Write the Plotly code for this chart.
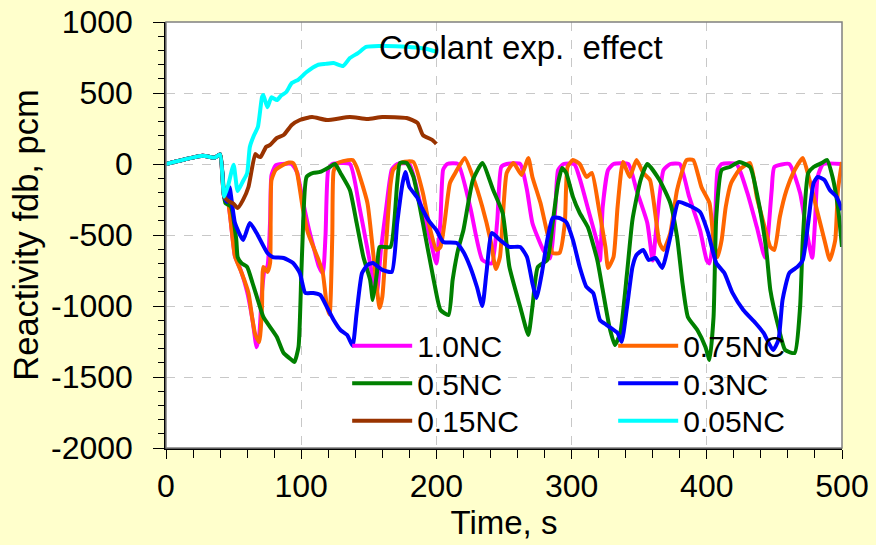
import plotly.graph_objects as go

# ---- data ----
start_t = [0, 27, 36, 40, 43]
start_y = [0, 58, 45, 68, -230]

nc100_t = start_t + [46, 51, 55, 60, 64, 67, 69, 71, 73, 75, 77, 78, 81, 86, 93, 97, 101, 105, 109, 113, 116, 118, 120, 123,
                     136, 143, 149, 153, 156, 159, 163, 167, 171, 180, 188, 195, 200, 203, 205, 208, 216, 225, 234, 241,
                     245, 248, 252, 262, 267, 271, 279, 284, 288, 290, 294, 302, 307, 313, 319, 321, 323, 327, 331, 342,
                     348, 356, 360, 363, 368, 373, 380, 387, 395, 400, 402, 406, 408, 411, 422, 430, 437, 443, 445, 448,
                     450, 461, 469, 474, 478, 480, 482, 486, 500]
nc100_y = start_y + [-275, -650, -740, -900, -1100, -1290, -1200, -900, -740, -720, -400, -80, -10, 0, 0, -60, -250, -430,
                     -580, -720, -770, -500, -40, 0, 0, -300, -600, -800, -900, -600, -300, -40, 0, 0, -275, -514, -700,
                     -400, -40, 0, 0, -303, -676, -700, -400, -20, 0, 0, -183, -415, -605, -665, -303, -42, 0, 0, -134,
                     -345, -556, -680, -303, -42, 0, 0, -183, -415, -680, -415, -42, 0, 0, -232, -465, -680, -700, -415,
                     -42, 0, 0, -204, -444, -660, -535, -183, -21, 0, -204, -486, -660, -415, -91, 0, 0]

nc075_t = start_t + [46, 51, 56, 61, 64, 66, 69, 71, 72, 75, 77, 78, 81, 84, 91, 94, 97, 101, 105, 109, 113, 116, 119, 121,
                     123, 124, 127, 131, 138, 141, 149, 153, 158, 160, 163, 166, 168, 175, 183, 190, 195, 200, 203, 206,
                     210, 214, 221, 227, 234, 240, 244, 247, 250, 252, 257, 263, 268, 271, 277, 282, 286, 291, 295, 297,
                     301, 306, 311, 315, 320, 325, 327, 331, 334, 338, 343, 348, 353, 358, 365, 368, 373, 378, 385, 390,
                     396, 402, 405, 408, 411, 414, 418, 424, 432, 437, 442, 447, 450, 454, 459, 465, 471, 476, 482, 487,
                     491, 495, 497, 500]
nc075_y = start_y + [-275, -650, -768, -908, -1099, -1200, -1253, -1007, -725, -760, -697, -113, -42, -21, 10, 7, -63,
                     -303, -486, -584, -680, -768, -1000, -1060, -500, -50, 7, 20, 28, -21, -275, -605, -1014, -936, -535,
                     -150, -42, 14, 14, -204, -444, -605, -584, -415, -134, -63, 42, -91, -303, -535, -740, -655, -250,
                     -63, 7, -77, 42, -91, -275, -486, -627, -627, -415, -21, 28, 0, -91, -63, -303, -584, -732, -655,
                     -303, 14, -91, 28, -63, -113, -556, -605, -486, -183, 28, 28, -162, -275, -535, -655, -535, -303,
                     -134, -42, 7, -232, -415, -584, -605, -373, -183, -42, 42, -113, -345, -535, -676, -535, -183, 14]

nc050_t = start_t + [44, 48, 52, 53, 56, 60, 64, 68, 72, 77, 82, 87, 93, 95, 98, 100, 101, 104, 109, 114, 121, 125, 129,
                     136, 141, 146, 151, 153, 156, 158, 166, 171, 173, 178, 183, 190, 198, 203, 209, 212, 216, 220, 227,
                     234, 242, 249, 254, 262, 268, 271, 275, 282, 286, 290, 293, 296, 301, 306, 312, 319, 323, 328, 332,
                     336, 341, 345, 351, 356, 365, 373, 378, 382, 386, 393, 399, 402, 405, 407, 411, 417, 424, 432, 438,
                     444, 447, 453, 458, 465, 469, 471, 475, 479, 485, 489, 493, 497, 500]
nc050_y = start_y + [-275, -300, -535, -655, -700, -725, -838, -960, -1077, -1148, -1218, -1331, -1380, -1394, -1289, -800,
                     -535, -91, -63, -56, -21, 0, -63, -183, -415, -655, -817, -958, -768, -584, -584, -134, 7, 7, -91,
                     -415, -817, -1028, -1063, -817, -605, -465, -113, 7, -183, -345, -725, -1007, -1204, -1007, -725,
                     -676, -415, -134, -28, -63, -232, -345, -444, -676, -887, -1148, -1275, -1190, -768, -394, -113, 0,
                     -113, -275, -514, -838, -1077, -1169, -1289, -1380, -1077, -373, -42, -21, 14, -21, -253, -605, -887,
                     -1148, -1310, -1331, -1007, -535, -63, -21, 7, 28, -91, -303, -584]

nc030_t = start_t + [45, 47, 51, 57, 62, 67, 75, 79, 87, 94, 99, 103, 109, 114, 119, 124, 129, 134, 138, 141, 145, 149,
                     153, 160, 167, 171, 175, 177, 180, 186, 190, 195, 200, 205, 215, 220, 225, 230, 234, 237, 241, 247,
                     254, 262, 267, 271, 274, 278, 282, 286, 291, 296, 301, 306, 311, 316, 321, 326, 334, 337, 341, 345,
                     348, 353, 357, 362, 367, 373, 379, 386, 395, 401, 407, 413, 419, 427, 436, 442, 449, 453, 456, 461,
                     467, 471, 475, 479, 482, 487, 491, 496, 500]
nc030_y = start_y + [-268, -162, -415, -535, -415, -486, -627, -655, -662, -697, -768, -908, -908, -922, -1007, -1099,
                     -1169, -1204, -1280, -1049, -768, -711, -697, -746, -760, -415, -134, -56, -162, -239, -324, -408,
                     -465, -549, -556, -620, -725, -866, -1000, -768, -486, -535, -584, -584, -655, -838, -944, -768,
                     -535, -380, -380, -408, -535, -725, -866, -908, -1099, -1134, -1190, -1253, -1007, -725, -641, -605,
                     -676, -662, -732, -514, -268, -289, -338, -486, -697, -768, -908, -1028, -1120, -1190, -1310, -1239,
                     -958, -768, -725, -676, -415, -134, -91, -113, -183, -232, -324]

nc015_t = start_t + [46, 50, 53, 57, 61, 66, 68, 70, 74, 77, 82, 87, 93, 99, 108, 119, 136, 149, 160, 178, 186, 190, 197, 200]
nc015_y = start_y + [-260, -280, -310, -253, -162, 70, 55, 50, 120, 134, 183, 204, 275, 310, 331, 310, 331, 317, 331, 324,
                     289, 204, 169, 141]

nc005_t = start_t + [46, 50, 53, 57, 60, 62, 65, 68, 71, 72, 75, 78, 82, 85, 89, 93, 98, 104, 112, 118, 124, 131, 136, 142,
                     148, 158, 170, 185, 195, 200]
nc005_y = start_y + [-150, -5, -190, -120, -65, 120, 200, 262, 470, 486, 400, 470, 450, 480, 507, 570, 595, 648, 697, 705,
                     711, 690, 746, 781, 824, 831, 830, 820, 805, 790]

series_names = ["1.0NC", "0.75NC", "0.5NC", "0.3NC", "0.15NC", "0.05NC"]
series_t = [nc100_t, nc075_t, nc050_t, nc030_t, nc015_t, nc005_t]
series_y = [nc100_y, nc075_y, nc050_y, nc030_y, nc015_y, nc005_y]
series_colors = ["#FF00FF", "#FF6600", "#008000", "#0000FF", "#993300", "#00FFFF"]

x_ticks = [0, 100, 200, 300, 400, 500]
y_ticks = [1000, 500, 0, -500, -1000, -1500, -2000]

FONT = "Arial, Liberation Sans, sans-serif"

# legend grid: 2 columns x 3 rows, one legend box per entry
leg_cols = [0.268, 0.6615]
leg_rows = [0.240, 0.152, 0.064]
legend_ids = ["legend", "legend2", "legend3", "legend4", "legend5", "legend6"]

fig = go.Figure()
legend_layout = {}
for i, (name, t, y, col) in enumerate(zip(series_names, series_t, series_y, series_colors)):
    lid = legend_ids[i]
    fig.add_trace(go.Scatter(
        x=t, y=y, name=name, mode="lines",
        line=dict(color=col, width=4, shape="spline", smoothing=0.5),
        legend=lid,
    ))
    legend_layout[lid] = dict(x=leg_cols[i % 2], y=leg_rows[i // 2], xanchor="left", yanchor="middle",
                              bgcolor="rgba(0,0,0,0)", font=dict(size=30), itemwidth=60)

fig.update_layout(
    width=876, height=545,
    margin=dict(l=166, r=34, t=22, b=97, autoexpand=False),
    paper_bgcolor="#FFFFCC",
    plot_bgcolor="#FFFFFF",
    font=dict(family=FONT, size=30, color="#000000"),
    showlegend=True,
    xaxis=dict(
        range=[0, 500], tickvals=x_ticks, ticktext=[str(v) for v in x_ticks], automargin=False,
        ticks="outside", ticklen=9, tickwidth=1, tickcolor="#000000",
        showline=True, linecolor="#000000", linewidth=1.5,
        showgrid=True, gridcolor="#C8C8C8", griddash="dash", gridwidth=1,
        zeroline=False, tickfont=dict(size=32),
        minor=dict(dtick=20, ticks="outside", ticklen=8, tickcolor="#000000", showgrid=False),
        title=dict(text="Time, s", font=dict(size=33), standoff=6),
    ),
    yaxis=dict(
        range=[-2000, 1000], tickvals=y_ticks, ticktext=[str(v) for v in y_ticks], automargin=False,
        ticks="outside", ticklen=11, tickwidth=1, tickcolor="#000000",
        showline=True, linecolor="#000000", linewidth=1.5,
        showgrid=True, gridcolor="#C8C8C8", griddash="dash", gridwidth=1,
        zeroline=False, tickfont=dict(size=32), ticklabelstandoff=14,
        minor=dict(dtick=100, ticks="outside", ticklen=6, tickcolor="#000000", showgrid=False),
        title=dict(text="Reactivity fdb, pcm", font=dict(size=34.5), standoff=2),
    ),
    shapes=[dict(type="rect", xref="paper", yref="paper", x0=0, y0=0, x1=1, y1=1,
                 line=dict(color="#808080", width=1.5), layer="above")],
    annotations=[dict(text="Coolant exp.  effect", x=0.3116, y=0.94, xref="paper", yref="paper",
                      xanchor="left", yanchor="middle", showarrow=False,
                      font=dict(size=33, color="#000000"))],
    **legend_layout,
)

fig.write_html("out.html")
